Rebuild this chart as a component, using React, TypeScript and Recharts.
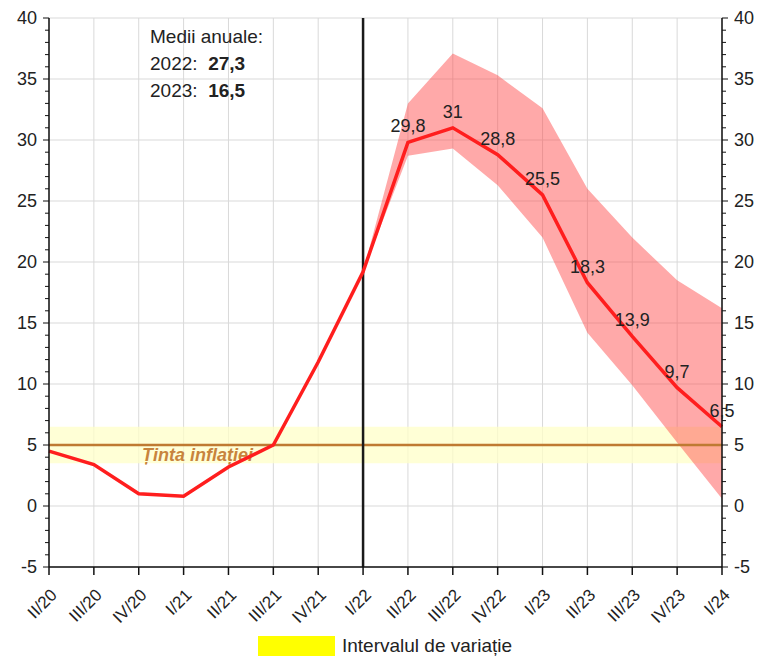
import React from 'react';
import {
  ComposedChart,
  Line,
  Area,
  XAxis,
  YAxis,
  CartesianGrid,
  ReferenceArea,
  ReferenceLine,
  LabelList,
} from 'recharts';

const quarters = [
  'II/20', 'III/20', 'IV/20', 'I/21', 'II/21', 'III/21', 'IV/21', 'I/22',
  'II/22', 'III/22', 'IV/22', 'I/23', 'II/23', 'III/23', 'IV/23', 'I/24',
];
const inflation = [4.5, 3.4, 1.0, 0.8, 3.2, 5.0, 11.8, 19.2, 29.8, 31, 28.8, 25.5, 18.3, 13.9, 9.7, 6.5];
// forecast band (starts at I/22)
const bandLow = [null, null, null, null, null, null, null, 19.2, 28.7, 29.3, 26.3, 22.0, 14.2, 9.9, 5.2, 0.6];
const bandHigh = [null, null, null, null, null, null, null, 19.2, 33.0, 37.1, 35.3, 32.6, 26.0, 22.0, 18.5, 16.2];
const forecastStart = 8; // labels shown from II/22
const target = 5;
const targetLow = 3.5;
const targetHigh = 6.5;
const yMajor = [-5, 0, 5, 10, 15, 20, 25, 30, 35, 40];
const yAll = Array.from({ length: 46 }, (_, i) => i - 5);
const annual = [
  { year: '2022', value: '27,3' },
  { year: '2023', value: '16,5' },
];

const FONT = '"Liberation Sans", Arial, sans-serif';
const fmt = (v: number) => String(v).replace('.', ',');

const data = quarters.map((q, i) => ({
  idx: i,
  q,
  inflation: inflation[i],
  band: bandLow[i] == null ? null : [bandLow[i], bandHigh[i]],
  lbl: i >= forecastStart ? fmt(inflation[i]) : null,
}));

const LeftTick = (props: any) => {
  const { x, y, payload } = props;
  const major = payload.value % 5 === 0;
  return (
    <g>
      <line x1={x} x2={x - (major ? 6 : 4)} y1={y} y2={y} stroke="#111" strokeWidth={1} />
      {major && (
        <text x={x - 12} y={y} dy={6} textAnchor="end" fontSize={18} fill="#222" fontFamily={FONT}>
          {payload.value}
        </text>
      )}
    </g>
  );
};

const RightTick = (props: any) => {
  const { x, y, payload } = props;
  const major = payload.value % 5 === 0;
  return (
    <g>
      <line x1={x} x2={x + (major ? 6 : 4)} y1={y} y2={y} stroke="#111" strokeWidth={1} />
      {major && (
        <text x={x + 12} y={y} dy={6} textAnchor="start" fontSize={18} fill="#222" fontFamily={FONT}>
          {payload.value}
        </text>
      )}
    </g>
  );
};

const BottomTick = (props: any) => {
  const { x, y, payload } = props;
  const tx = x + 9;
  const ty = y + 29;
  return (
    <g>
      <line x1={x} x2={x} y1={y} y2={y + 8} stroke="#111" strokeWidth={1.5} />
      <text
        x={tx}
        y={ty}
        textAnchor="end"
        fontSize={17}
        fill="#222"
        fontFamily={FONT}
        transform={`rotate(-45, ${tx}, ${ty})`}
      >
        {quarters[payload.value]}
      </text>
    </g>
  );
};

const PointLabel = (props: any) => {
  const { x, y, value } = props;
  if (value == null) return null;
  return (
    <text x={x} y={y - 10} textAnchor="middle" fontSize={18} fill="#222" fontFamily={FONT}>
      {value}
    </text>
  );
};

const TargetLabel = (props: any) => {
  const { viewBox } = props;
  return (
    <text
      x={viewBox.x + 93}
      y={viewBox.y + 16}
      fontSize={18}
      fontStyle="italic"
      fontWeight="bold"
      fill="#C8843C"
      fontFamily={FONT}
    >
      Ținta inflației
    </text>
  );
};

export default function App() {
  return (
    <div style={{ position: 'absolute', left: 0, top: 0, width: 758, height: 656, background: '#fff', fontFamily: FONT, overflow: 'hidden' }}>
      <ComposedChart width={758} height={656} data={data} margin={{ top: 18, right: 0, bottom: 0, left: 0 }}>
        <CartesianGrid
          stroke="#d9d9d9"
          strokeWidth={1}
          horizontalValues={yMajor}
          verticalValues={data.map(d => d.idx)}
          yAxisId="left"
        />
        <XAxis
          dataKey="idx"
          type="number"
          domain={[0, quarters.length - 1]}
          ticks={data.map(d => d.idx)}
          interval={0}
          tickSize={0}
          tickMargin={0}
          tick={<BottomTick />}
          height={89}
          axisLine={{ stroke: '#111', strokeWidth: 1.5 }}
          tickLine={false}
        />
        <YAxis
          yAxisId="left"
          orientation="left"
          domain={[-5, 40]}
          ticks={yAll}
          interval={0}
          width={49}
          tickSize={0}
          tickMargin={0}
          tick={<LeftTick />}
          tickLine={false}
          axisLine={{ stroke: '#111', strokeWidth: 1.5 }}
          allowDataOverflow
        />
        <YAxis
          yAxisId="right"
          orientation="right"
          domain={[-5, 40]}
          ticks={yAll}
          interval={0}
          width={36}
          tickSize={0}
          tickMargin={0}
          tick={<RightTick />}
          tickLine={false}
          axisLine={{ stroke: '#111', strokeWidth: 1.5 }}
          allowDataOverflow
        />
        <ReferenceArea yAxisId="left" y1={targetLow} y2={targetHigh} fill="#FFFFC8" fillOpacity={0.75} stroke="none" ifOverflow="hidden" />
        <Area
          yAxisId="left"
          dataKey="band"
          type="linear"
          stroke="none"
          fill="#FF4848"
          fillOpacity={0.47}
          isAnimationActive={false}
          activeDot={false}
        />
        <ReferenceLine yAxisId="left" y={target} stroke="#BF7A32" strokeWidth={2.5} label={<TargetLabel />} />
        <ReferenceLine yAxisId="left" x={7} stroke="#1a1a1a" strokeWidth={2.5} />
        <Line
          yAxisId="left"
          dataKey="inflation"
          type="linear"
          stroke="#FF1E1E"
          strokeWidth={3.5}
          dot={false}
          activeDot={false}
          isAnimationActive={false}
        >
          <LabelList dataKey="lbl" content={<PointLabel />} />
        </Line>
      </ComposedChart>
      <div style={{ position: 'absolute', left: 150, top: 23, fontSize: 19, color: '#222', lineHeight: '27px' }}>
        <div>Medii anuale:</div>
        {annual.map(a => (
          <div key={a.year}>
            {a.year}:&nbsp;&nbsp;<b>{a.value}</b>
          </div>
        ))}
      </div>
      <div style={{ position: 'absolute', left: 258, top: 636, height: 20, display: 'flex', alignItems: 'center', fontSize: 19, lineHeight: '20px', color: '#222' }}>
        <div style={{ width: 77, height: 20, background: '#FFFF00', marginRight: 7 }} />
        <span>Intervalul de variație</span>
      </div>
    </div>
  );
}
